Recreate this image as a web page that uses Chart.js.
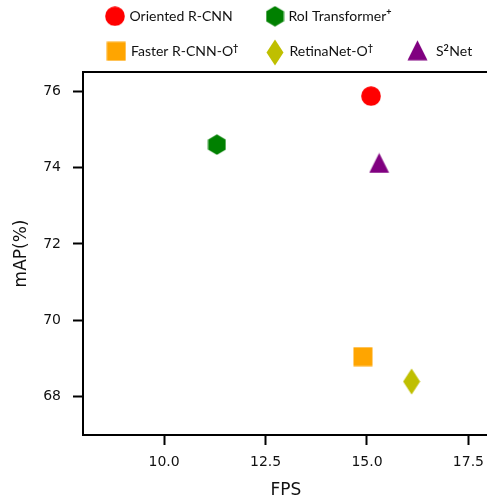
<!DOCTYPE html>
<html>
<head>
<meta charset="utf-8">
<script src="https://cdn.jsdelivr.net/npm/chart.js@4.4.1/dist/chart.umd.min.js"></script>
<style>
html, body { margin: 0; padding: 0; background: #fff; overflow: hidden; }
#wrap { width: 490px; height: 498px; }
</style>
</head>
<body>
<div id="wrap"><canvas id="fpsChart" width="490" height="498"></canvas></div>
<script>
// values
const methods = ["Oriented R-CNN", "RoI Transformer", "Faster R-CNN-O", "RetinaNet-O", "S2Net"];
const fps = [15.1, 11.3, 14.9, 16.1, 15.3];
const mAP = [75.87, 74.6, 69.05, 68.4, 74.12];
const shapes = ["circle", "hexagon", "square", "diamond", "triangle"];
const colors = ["#ff0000", "#008000", "#ffa500", "#bfbf00", "#800080"];

const xTicks = [10.0, 12.5, 15.0, 17.5];
const yTicks = [68, 70, 72, 74, 76];

// legend text, [text, superscript?]
const legendLabels = [
    [["Oriented R-CNN", false]],
    [["RoI Transformer", false], ["+", true]],
    [["Faster R-CNN-O", false], ["\u2020", true]],
    [["RetinaNet-O", false], ["\u2020", true]],
    [["S", false], ["2", true], ["Net", false]]
];

// legend layout (pixels)
const legendMarkX = [115, 275, 116.3, 275, 417.5];
const legendMarkY = [16.2, 16.3, 51.3, 52.5, 50.3];
const legendTextX = [129.5, 288.5, 131, 289.5, 436];
const legendBaseY = [20.6, 20.6, 56.2, 56.2, 56.2];

function makeMarker(shape, color) {
    const c = document.createElement("canvas");
    let w = 20, h = 20;
    if (shape === "diamond") { w = 18; h = 27; }
    if (shape === "hexagon") { w = 19; h = 21; }
    if (shape === "triangle") { w = 21; h = 21; }
    c.width = w;
    c.height = h;
    const g = c.getContext("2d");
    g.fillStyle = color;
    g.beginPath();
    if (shape === "circle") {
        g.arc(w / 2, h / 2, 9.8, 0, Math.PI * 2);
    } else if (shape === "square") {
        g.rect(0.5, 0.5, w - 1, h - 1);
    } else if (shape === "hexagon") {
        for (let i = 0; i < 6; i++) {
            const a = -Math.PI / 2 + i * Math.PI / 3;
            g.lineTo(w / 2 + 10.2 * Math.cos(a), h / 2 + 10.2 * Math.sin(a));
        }
    } else if (shape === "diamond") {
        g.moveTo(w / 2, 0.5);
        g.lineTo(w - 0.5, h / 2);
        g.lineTo(w / 2, h - 0.5);
        g.lineTo(0.5, h / 2);
    } else {
        g.moveTo(w / 2, 0.5);
        g.lineTo(w - 0.5, h - 0.5);
        g.lineTo(0.5, h - 0.5);
    }
    g.closePath();
    g.fill();
    return c;
}

const markers = shapes.map((s, i) => makeMarker(s, colors[i]));

const datasets = methods.map((m, i) => ({
    label: m,
    data: [{ x: fps[i], y: mAP[i] }],
    pointStyle: markers[i],
    backgroundColor: colors[i],
    borderColor: colors[i]
}));

const frameAndLegend = {
    id: "frameAndLegend",
    afterDraw(chart) {
        const ctx = chart.ctx;
        const a = chart.chartArea;
        ctx.save();
        ctx.strokeStyle = "#000";
        ctx.lineWidth = 2;
        ctx.beginPath();
        ctx.moveTo(a.left - 1, a.top);
        ctx.lineTo(a.right, a.top);
        ctx.stroke();

        ctx.fillStyle = "#111";
        ctx.textBaseline = "alphabetic";
        ctx.textAlign = "left";
        legendLabels.forEach((parts, i) => {
            const mk = markers[i];
            ctx.drawImage(mk, legendMarkX[i] - mk.width / 2, legendMarkY[i] - mk.height / 2);
            let x = legendTextX[i];
            parts.forEach(([txt, sup]) => {
                ctx.font = sup ? "bold 9px Lato" : "14px Lato";
                ctx.fillText(txt, x, legendBaseY[i] - (sup ? 5.5 : 0));
                x += ctx.measureText(txt).width + (sup ? 0.5 : 0);
            });
        });
        ctx.restore();
    }
};

new Chart(document.getElementById("fpsChart"), {
    type: "scatter",
    data: { datasets },
    options: {
        responsive: false,
        animation: false,
        devicePixelRatio: 1,
        layout: { autoPadding: false, padding: { top: 72, left: 0, right: 0, bottom: 0 } },
        plugins: {
            legend: { display: false },
            tooltip: { enabled: false }
        },
        scales: {
            x: {
                type: "linear",
                min: 8,
                max: 18,
                afterBuildTicks: s => { s.ticks = xTicks.map(v => ({ value: v })); },
                afterFit: s => { s.height = 63; },
                ticks: {
                    font: { family: "DejaVu Sans", size: 14, lineHeight: 1.63 },
                    color: "#111",
                    padding: 6,
                    maxRotation: 0,
                    callback: v => Number(v).toFixed(1)
                },
                grid: {
                    drawOnChartArea: false,
                    tickLength: 10,
                    tickWidth: 2,
                    tickColor: "#000"
                },
                border: { color: "#000", width: 2 },
                title: {
                    display: true,
                    text: "FPS",
                    color: "#111",
                    font: { family: "DejaVu Sans", size: 17, lineHeight: 1 },
                    padding: { top: 0, bottom: -1 }
                }
            },
            y: {
                min: 67,
                max: 76.5,
                afterBuildTicks: s => { s.ticks = yTicks.map(v => ({ value: v })); },
                afterFit: s => { s.width = 83; },
                ticks: {
                    font: { family: "DejaVu Sans", size: 14 },
                    color: "#111",
                    padding: 12,
                    callback: v => String(v)
                },
                grid: {
                    drawOnChartArea: false,
                    tickLength: 10,
                    tickWidth: 2,
                    tickColor: "#000"
                },
                border: { color: "#000", width: 2 },
                title: {
                    display: true,
                    text: "mAP(%)",
                    color: "#111",
                    font: { family: "DejaVu Sans", size: 17, lineHeight: 1 },
                    padding: { top: 13, bottom: 0 }
                }
            }
        }
    },
    plugins: [frameAndLegend]
});
</script>
</body>
</html>
